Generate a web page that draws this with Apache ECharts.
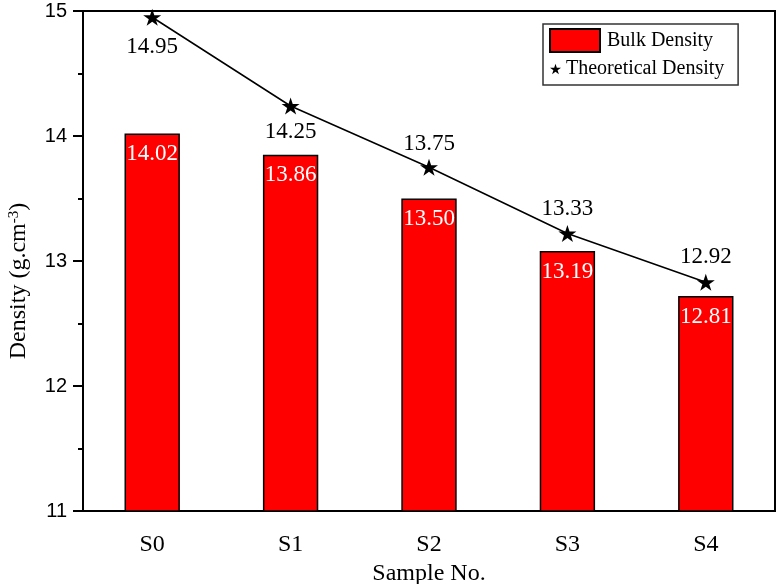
<!DOCTYPE html>
<html>
<head>
<meta charset="utf-8">
<script src="https://cdn.jsdelivr.net/npm/echarts@6/dist/echarts.min.js"></script>
<style>
  html, body { margin: 0; padding: 0; background: #fff; }
  #container { width: 779px; height: 584px; }
</style>
</head>
<body>
<div id="container"></div>
<script>
// values
var samples = ['S0', 'S1', 'S2', 'S3', 'S4'];
var bulkDensity = [14.02, 13.85, 13.50, 13.08, 12.72];
var bulkLabels = ['14.02', '13.86', '13.50', '13.19', '12.81'];
var theoDensity = [14.95, 14.24, 13.75, 13.22, 12.83];
var theoLabels = ['14.95', '14.25', '13.75', '13.33', '12.92'];
var yTicks = [11, 15, 1];

// where each theoretical label sits (style only)
var theoLabelPos = ['bottom', 'bottom', 'top', 'top', 'top'];
var theoLabelDist = [10, 6, 3, 4, 5];

var serif = 'Liberation Serif';
var star = 'path://M10 0L12.25 6.91L19.51 6.91L13.63 11.18L15.88 18.09L10 13.82L4.12 18.09L6.37 11.18L0.49 6.91L7.75 6.91Z';

var myChart = echarts.init(document.getElementById('container'));

var theoData = theoDensity.map(function (v, i) {
    return {
        value: v,
        label: {
            position: theoLabelPos[i],
            distance: theoLabelDist[i]
        }
    };
});

option = {
    animation: false,
    backgroundColor: '#fff',
    grid: {
        left: 83,
        right: 4,
        top: 11,
        bottom: 73,
        outerBoundsMode: 'none',
        containLabel: false,
        show: true,
        borderColor: '#000',
        borderWidth: 2
    },
    legend: [{
        data: [{ name: 'Bulk Density', icon: 'rect' }],
        left: 543,
        top: 24,
        orient: 'vertical',
        padding: [4, 25, 32, 6],
        borderColor: '#333',
        borderWidth: 1.5,
        itemWidth: 50,
        itemHeight: 23,
        selectedMode: false,
        textStyle: { fontFamily: serif, fontSize: 20, color: '#000', padding: [0, 0, 0, 2] }
    }, {
        data: [{ name: 'Theoretical Density', icon: star }],
        left: 550,
        top: 59,
        padding: 0,
        itemWidth: 11,
        itemHeight: 11,
        selectedMode: false,
        textStyle: { fontFamily: serif, fontSize: 20, color: '#000' }
    }],
    xAxis: {
        type: 'category',
        data: samples,
        name: 'Sample No.',
        nameLocation: 'middle',
        nameGap: 47,
        nameTextStyle: { fontFamily: serif, fontSize: 24, color: '#000' },
        axisLine: { lineStyle: { color: '#000', width: 2 } },
        axisTick: { show: false },
        axisLabel: { fontFamily: serif, fontSize: 24, color: '#000', margin: 22 }
    },
    yAxis: {
        type: 'value',
        min: yTicks[0],
        max: yTicks[1],
        interval: yTicks[2],
        name: '{a|Density (g.cm}{s|-3}{a|)}',
        nameLocation: 'middle',
        nameGap: 52,
        nameTextStyle: {
            padding: [0, 40, 0, 0],
            rich: {
                a: { fontFamily: serif, fontSize: 24, color: '#000' },
                s: { fontFamily: serif, fontSize: 15, color: '#000', verticalAlign: 'top' }
            }
        },
        axisLine: { show: true, lineStyle: { color: '#000', width: 2 } },
        axisTick: { show: true, inside: false, length: 10, lineStyle: { color: '#000', width: 2 } },
        minorTick: { show: true, splitNumber: 2, length: 5, lineStyle: { color: '#000', width: 2 } },
        splitLine: { show: false },
        axisLabel: { fontFamily: 'Liberation Sans', fontSize: 20, color: '#000', margin: 16 }
    },
    series: [{
        name: 'Bulk Density',
        type: 'bar',
        barWidth: '40%',
        data: bulkDensity,
        itemStyle: { color: '#ff0000', borderColor: '#000', borderWidth: 1.5 },
        label: {
            show: true,
            position: 'insideTop',
            distance: 9,
            color: '#fff',
            fontFamily: serif,
            fontSize: 23,
            formatter: function (p) { return bulkLabels[p.dataIndex]; }
        }
    }, {
        name: 'Theoretical Density',
        type: 'line',
        data: theoData,
        symbol: star,
        symbolSize: 18,
        symbolKeepAspect: true,
        itemStyle: { color: '#000' },
        lineStyle: { color: '#000', width: 1.5 },
        label: {
            show: true,
            color: '#000',
            fontFamily: serif,
            fontSize: 23,
            formatter: function (p) { return theoLabels[p.dataIndex]; }
        }
    }]
};

myChart.setOption(option);
</script>
</body>
</html>
